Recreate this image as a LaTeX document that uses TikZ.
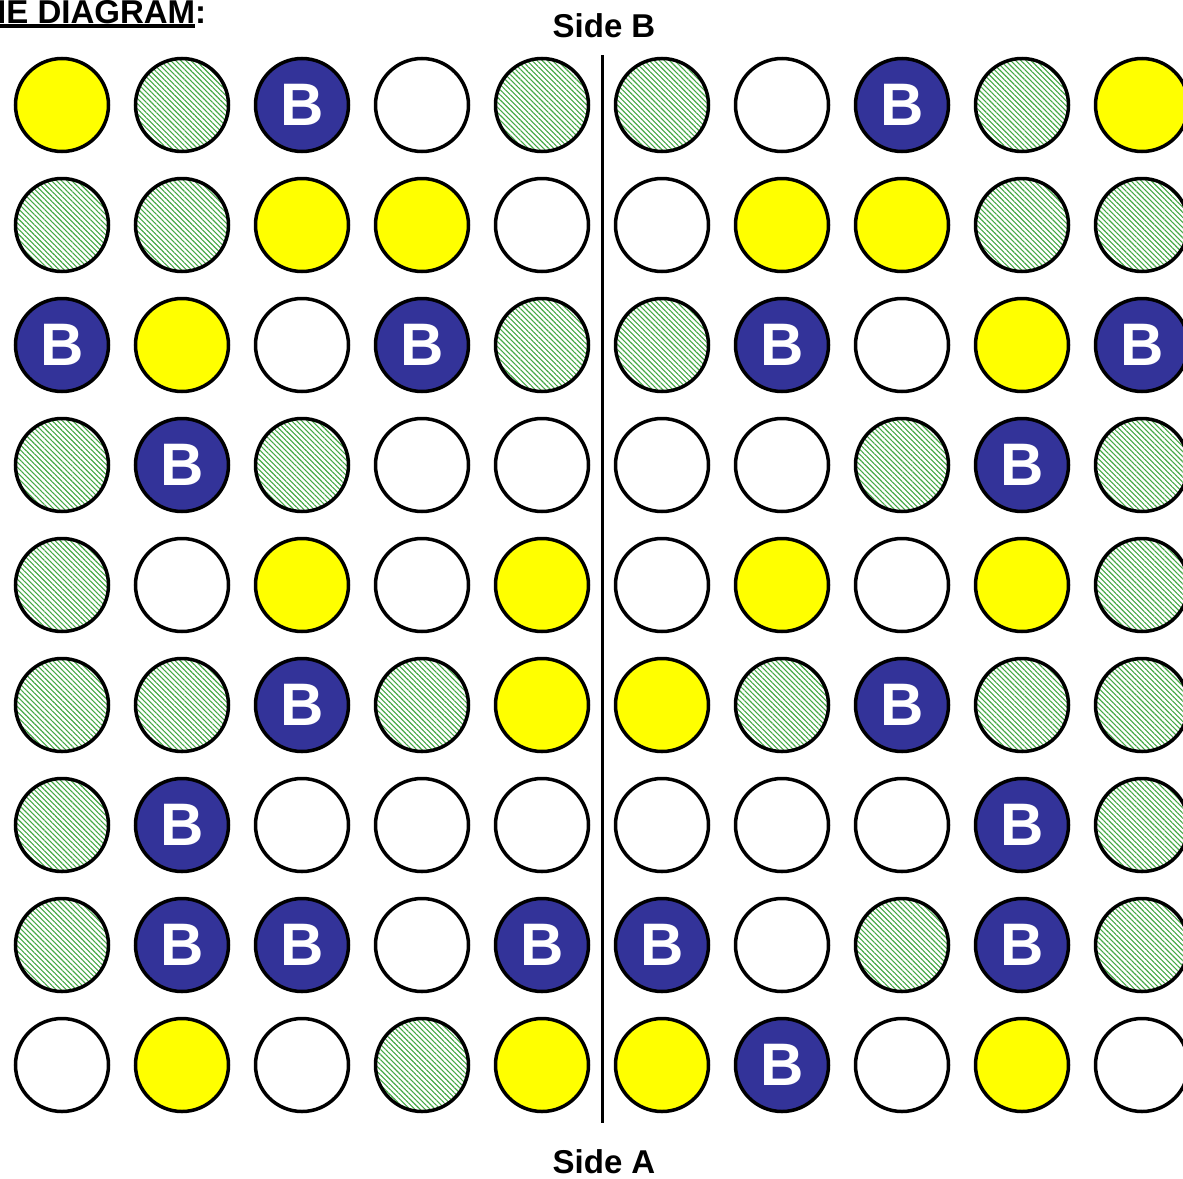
\documentclass[tikz,border=0pt]{standalone}
\usepackage{fontspec}
\setmainfont{Liberation Sans}
\usetikzlibrary{patterns.meta}
\definecolor{boardblue}{HTML}{333399}
\definecolor{boardyellow}{HTML}{FFFF00}
\definecolor{boardgreen}{HTML}{45A845}
\newcommand\barunder[1]{\setbox0\hbox{#1}\rlap{\vrule width\wd0 height -1pt depth 5pt}\box0}

\begin{document}
\begin{tikzpicture}[
        x=1pt,y=-1pt,
        disc/.style={circle,minimum size=93pt,inner sep=0pt,line width=3.5pt,draw=black},
        discW/.style={disc,fill=white,node contents={}},
        discY/.style={disc,fill=boardyellow,node contents={}},
        discG/.style={disc,pattern={Lines[angle=-45,distance=3.6pt,line width=1.1pt]},
          pattern color=boardgreen,node contents={}},
        discB/.style={disc,fill=boardblue,text=white,
          font=\fontsize{60}{60}\selectfont\bfseries,node contents={B}},
        side/.style={anchor=base,inner sep=0pt,font=\fontsize{33}{36}\selectfont\bfseries}
      ]
        \useasboundingbox (0,0) rectangle (1183,1178);

        \node[anchor=base west,inner sep=0pt,font=\fontsize{33}{36}\selectfont\bfseries]
          (title) at (-3,23) {\barunder{IE DIAGRAM}:};
        \node[side] (sideB) at (604,37) {Side B};
        \node[side] (sideA) at (604,1173) {Side A};

        % board, row by row from side B
        \foreach \row [count=\r] in {
            {Y,G,B,W,G,G,W,B,G,Y},
            {G,G,Y,Y,W,W,Y,Y,G,G},
            {B,Y,W,B,G,G,B,W,Y,B},
            {G,B,G,W,W,W,W,G,B,G},
            {G,W,Y,W,Y,W,Y,W,Y,G},
            {G,G,B,G,Y,Y,G,B,G,G},
            {G,B,W,W,W,W,W,W,B,G},
            {G,B,B,W,B,B,W,G,B,G},
            {W,Y,W,G,Y,Y,B,W,Y,W}} {
          \foreach \c [count=\k] in \row {
            \node (d-\r-\k) at ({62+120*(\k-1)},{105+120*(\r-1)}) [disc\c];
          }
        }

        \coordinate (midtop) at (602,55);
        \coordinate (midbot) at (602,1123);
        \draw[line width=3pt] (midtop) -- (midbot);
      \end{tikzpicture}
\end{document}
